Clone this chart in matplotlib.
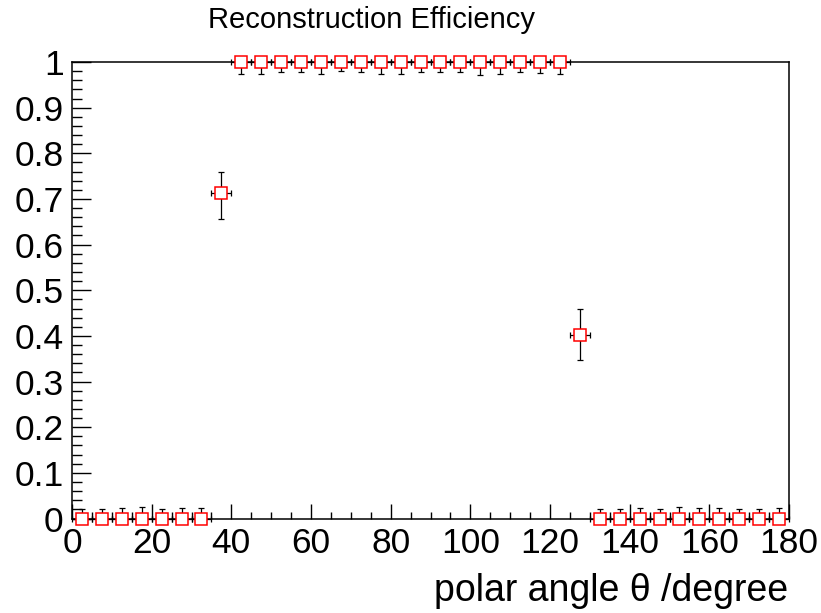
import numpy as np
import matplotlib
matplotlib.use("Agg")
import matplotlib.pyplot as plt
from matplotlib.ticker import MultipleLocator

plt.rcParams['font.family'] = ['Liberation Sans', 'DejaVu Sans']

# efficiency per 5 degree bin (0..180)
theta = np.arange(2.5, 180, 5)
theta_err = [2.5] * 36
eff = [0, 0, 0, 0, 0, 0, 0,
       0.713,
       1, 1, 1, 1, 1, 1, 1, 1, 1, 1, 1, 1, 1, 1, 1, 1, 1,
       0.402,
       0, 0, 0, 0, 0, 0, 0, 0, 0, 0]
err_up = [0.020, 0.020, 0.024, 0.025, 0.020, 0.022, 0.022,
          0.047,
          0, 0, 0, 0, 0, 0, 0, 0, 0, 0, 0, 0, 0, 0, 0, 0, 0,
          0.056,
          0.020, 0.020, 0.023, 0.020, 0.025, 0.023, 0.024, 0.021, 0.020, 0.024]
err_dn = [0, 0, 0, 0, 0, 0, 0,
          0.056,
          0.026, 0.026, 0.023, 0.023, 0.027, 0.020, 0.022, 0.026, 0.027,
          0.023, 0.023, 0.023, 0.029, 0.026, 0.022, 0.025, 0.026,
          0.055,
          0, 0, 0, 0, 0, 0, 0, 0, 0, 0]
ytick_labels = ['0', '0.1', '0.2', '0.3', '0.4', '0.5', '0.6', '0.7', '0.8', '0.9', '1']

fig = plt.figure(figsize=(8.21, 6.13), dpi=100)
ax = fig.add_axes([72/821, 1 - 518.5/613, (789 - 72)/821, (518.5 - 62)/613])

ax.errorbar(theta, eff, yerr=[err_dn, err_up], xerr=theta_err, fmt='none',
            ecolor='black', elinewidth=0.9, capsize=2.3, capthick=0.9,
            clip_on=False, zorder=3)
ax.plot(theta, eff, ls='none', marker='s', ms=8, mfc='white', mec='red',
        mew=1.1, clip_on=False, zorder=4)

ax.set_xlim(0, 180)
ax.set_ylim(0, 1)
ax.xaxis.set_major_locator(MultipleLocator(20))
ax.xaxis.set_minor_locator(MultipleLocator(5))
ax.yaxis.set_minor_locator(MultipleLocator(0.02))
ax.set_yticks(np.arange(0, 1.01, 0.1))
ax.set_yticklabels(ytick_labels)
ax.tick_params(which='both', direction='in', top=False, right=False, labelsize=25.5, width=1.0)
ax.tick_params(axis='x', which='major', length=10.5, pad=6)
ax.tick_params(axis='x', which='minor', length=5)
ax.tick_params(axis='y', which='major', length=14, pad=6)
ax.tick_params(axis='y', which='minor', length=7)
for s in ax.spines.values():
    s.set_linewidth(1.1)

fig.text(208/821, 1 - 28/613, 'Reconstruction Efficiency', fontsize=21, va='baseline', ha='left')
fig.text(788/821, 1 - 601/613, r'polar angle θ /degree', fontsize=27, va='baseline', ha='right')

plt.savefig("out.png", dpi=100)
plt.close()
